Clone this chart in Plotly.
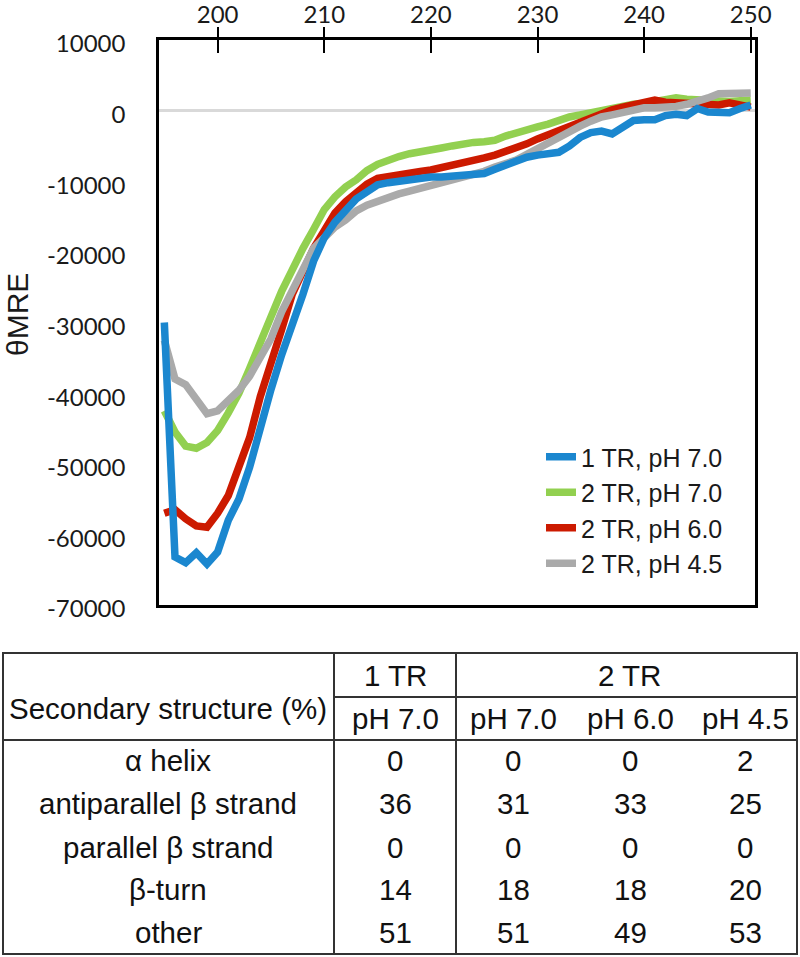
import plotly.graph_objects as go

# ---------------- data ----------------
wavelength = list(range(195, 251))

tr1_ph70 = [-30000, -63200, -64000, -62600, -64200, -62500, -58000, -55000, -50500, -44800,
            -39500, -34600, -30500, -26000, -21300, -18000, -15800, -14000, -12500, -11500,
            -10500, -10200, -10000, -9700, -9500, -9400, -9400, -9300, -9200, -9100,
            -8900, -8300, -7700, -7000, -6600, -6300, -6100, -5900, -5000, -3800,
            -3100, -2900, -3300, -2300, -1400, -1300, -1300, -700, -500, -700,
            300, -200, -300, -300, 300, 800]

tr2_ph70 = [-42500, -45500, -47500, -47800, -47000, -45300, -42800, -40000, -36500, -32500,
            -29200, -25600, -22300, -19500, -16800, -14000, -12200, -10800, -9800, -8500,
            -7600, -7000, -6500, -6100, -5900, -5600, -5300, -5000, -4700, -4500,
            -4400, -4200, -3600, -3100, -2600, -2300, -1900, -1300, -900, -600,
            -300, 0, 400, 800, 900, 1000, 1200, 1500, 1800, 1600,
            1500, 1500, 1400, 1300, 1400, 1500]

tr2_ph60 = [-57000, -56500, -57800, -58800, -59000, -57000, -54500, -50000, -46300, -40500,
            -36000, -31000, -26000, -22500, -19500, -17000, -14500, -12900, -11500, -10400,
            -9600, -9300, -9000, -8800, -8600, -8400, -8100, -7700, -7300, -7000,
            -6700, -6300, -5800, -5300, -4700, -4000, -3400, -2800, -2200, -1600,
            -1000, -400, 100, 500, 900, 1200, 1500, 1200, 1100, 900,
            800, 800, 800, 1100, 800, 500]

tr2_ph45 = [-32500, -38000, -38800, -41000, -42900, -42500, -41200, -39600, -37600, -35000,
            -32300, -28500, -25500, -22000, -19500, -18000, -16500, -15500, -14200, -13400,
            -12800, -12300, -11800, -11400, -11000, -10800, -10400, -9900, -9400, -9000,
            -8600, -8000, -7500, -7000, -6200, -5400, -4600, -3700, -2800, -2200,
            -1500, -900, -600, -200, 200, 400, 400, 400, 600, 900,
            1300, 1800, 2400, 2500, 2500, 2500]

series_names = ["1 TR, pH 7.0", "2 TR, pH 7.0", "2 TR, pH 6.0", "2 TR, pH 4.5"]
series_values = [tr1_ph70, tr2_ph70, tr2_ph60, tr2_ph45]
series_colors = ["#1b87cf", "#92d050", "#cc1a00", "#aaaaaa"]
draw_order = [1, 2, 3, 0]  # green, red, gray below; blue on top

x_ticks = [200, 210, 220, 230, 240, 250]
x_tick_labels = ["200", "210", "220", "230", "240", "250"]
y_ticks = [10000, 0, -10000, -20000, -30000, -40000, -50000, -60000, -70000]
y_tick_labels = ["10000", "0", "-10000", "-20000", "-30000", "-40000", "-50000", "-60000", "-70000"]
y_title = "θMRE"

# table content
table_corner = "Secondary structure (%)"
table_groups = ["1 TR", "2 TR"]
table_conditions = ["pH 7.0", "pH 7.0", "pH 6.0", "pH 4.5"]
table_rows = ["α helix", "antiparallel β strand", "parallel β strand", "β-turn", "other"]
alpha_helix = [0, 0, 0, 2]
antiparallel_beta = [36, 31, 33, 25]
parallel_beta = [0, 0, 0, 0]
beta_turn = [14, 18, 18, 20]
other = [51, 51, 49, 53]
table_values = [alpha_helix, antiparallel_beta, parallel_beta, beta_turn, other]

# ---------------- layout geometry ----------------
W, H = 800, 957
ML, MR, MT, MB = 159, 45, 40, 352
PW, PH = W - ML - MR, H - MT - MB


def fx(px):
    return (px - ML) / PW


def fy(py):
    return 1 - (py - MT) / PH


fig = go.Figure()

for i in draw_order:
    fig.add_trace(go.Scatter(
        x=wavelength, y=series_values[i], mode="lines", name=series_names[i],
        line=dict(color=series_colors[i], width=7.5), legendrank=i + 1,
    ))

# invisible helper trace so the overlay axis (outer half of crossing ticks) is rendered
fig.add_trace(go.Scatter(x=wavelength, y=tr1_ph70, xaxis="x2", mode="lines",
                         line=dict(width=0, color="rgba(0,0,0,0)"), showlegend=False,
                         hoverinfo="skip"))

tick_font = dict(family="Lato", size=24, color="#1a1a1a")
xr = [194.5, 250.4]

fig.update_layout(
    width=W, height=H,
    margin=dict(l=ML, r=MR, t=MT, b=MB, autoexpand=False),
    paper_bgcolor="white", plot_bgcolor="white",
    showlegend=True,
    legend=dict(x=fx(541), xanchor="left", y=fy(434), yanchor="top",
                bgcolor="rgba(0,0,0,0)", font=dict(family="Liberation Sans", size=25, color="#1a1a1a"),
                traceorder="normal"),
    xaxis=dict(range=xr, side="top", tickvals=x_ticks, ticktext=x_tick_labels,
               ticks="inside", ticklen=13, tickwidth=2, tickcolor="black",
               ticklabelstandoff=5,
               showline=True, linecolor="black", linewidth=2.5, mirror=True,
               showgrid=False, zeroline=False, tickfont=tick_font, automargin=False),
    xaxis2=dict(range=xr, overlaying="x", side="top", anchor="y", tickvals=x_ticks,
                ticks="outside", ticklen=12, tickwidth=2, tickcolor="black",
                showticklabels=False, showline=False, showgrid=False, zeroline=False,
                automargin=False),
    yaxis=dict(range=[-70000, 10000], tickvals=y_ticks, ticktext=y_tick_labels,
               ticks="", showline=True, linecolor="black", linewidth=2.5, mirror=True,
               showgrid=False, zeroline=True, zerolinecolor="#d9d9d9", zerolinewidth=2.5,
               ticklabelstandoff=26, ticklabelshift=4, tickfont=tick_font, automargin=False),
)

annotations = [dict(text=y_title, x=fx(17), y=fy(315), xref="paper", yref="paper",
                    textangle=-90, showarrow=False, xanchor="center", yanchor="middle",
                    font=dict(family="Liberation Sans", size=30, color="#1a1a1a"))]

# ---------------- table ----------------
line_style = dict(color="#333333", width=2)
shapes = []
T_L, T_R, T_T, T_B = 3, 797, 653, 954
COL1, COL2 = 334, 456
ROW_SPLIT, HEAD_B = 697, 740
shapes.append(dict(type="rect", xref="paper", yref="paper", x0=fx(T_L), x1=fx(T_R),
                   y0=fy(T_B), y1=fy(T_T), line=line_style))
for cx in (COL1, COL2):
    shapes.append(dict(type="line", xref="paper", yref="paper", x0=fx(cx), x1=fx(cx),
                       y0=fy(T_B), y1=fy(T_T), line=line_style))
shapes.append(dict(type="line", xref="paper", yref="paper", x0=fx(COL1), x1=fx(T_R),
                   y0=fy(ROW_SPLIT), y1=fy(ROW_SPLIT), line=line_style))
shapes.append(dict(type="line", xref="paper", yref="paper", x0=fx(T_L), x1=fx(T_R),
                   y0=fy(HEAD_B), y1=fy(HEAD_B), line=line_style))

tfont = dict(family="Liberation Sans", size=29.5, color="#111111")
label_x = 168
col_x = [395, 513, 630, 745]
group_x = [395, 629]
group_y = 675
cond_y = 718
row_y = [760, 803, 847, 890, 932]


def tann(text, px, py):
    return dict(text=text, x=fx(px), y=fy(py), xref="paper", yref="paper", showarrow=False,
                xanchor="center", yanchor="middle", font=tfont)


annotations.append(tann(table_corner, label_x, 708))
for g, gx in zip(table_groups, group_x):
    annotations.append(tann(g, gx, group_y))
for c, cx in zip(table_conditions, col_x):
    annotations.append(tann(c, cx, cond_y))
for r, ry, vals in zip(table_rows, row_y, table_values):
    annotations.append(tann(r, label_x, ry))
    for v, cx in zip(vals, col_x):
        annotations.append(tann(str(v), cx, ry))

fig.update_layout(shapes=shapes, annotations=annotations)

fig.write_html("out.html", config={"displayModeBar": False},
               post_script="document.body.style.margin='0';document.body.style.overflow='hidden';")
